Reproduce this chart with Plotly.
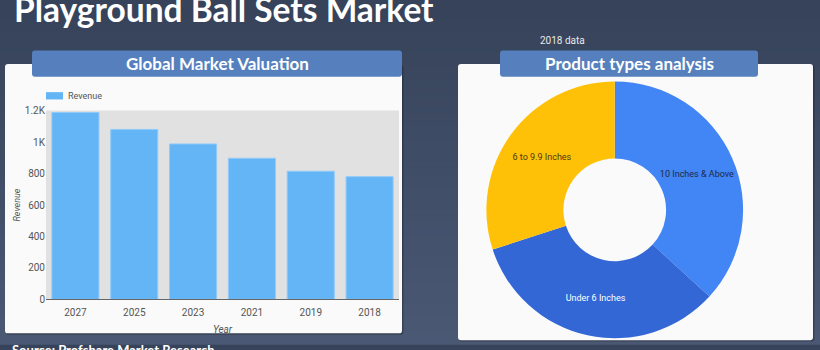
import plotly.graph_objects as go

# ---------------- data ----------------
years = ["2027", "2025", "2023", "2021", "2019", "2018"]
revenue = [1188, 1080, 988, 897, 815, 780]
y_tick_vals = [0, 200, 400, 600, 800, 1000, 1200]
y_tick_text = ["0", "200", "400", "600", "800", "1K", "1.2K"]

product_types = ["10 Inches & Above", "Under 6 Inches", "6 to 9.9 Inches"]
product_share = [36.8, 33.2, 30.0]
product_colors = ["#4285f4", "#3367d6", "#ffc107"]
product_text_colors = ["#1f2a44", "#ffffff", "#4a3b10"]

W, H = 820, 350


def px(x):
    return x / W


def py(y):
    return 1 - y / H


def rrect(x0, y0, x1, y1, r=3):
    # rounded rectangle path in paper coords from pixel coords
    rx, ry = r / W, r / H
    X0, X1 = px(x0), px(x1)
    Y0, Y1 = py(y0), py(y1)  # Y0 top, Y1 bottom
    return (f"M{X0+rx},{Y0} L{X1-rx},{Y0} Q{X1},{Y0} {X1},{Y0-ry} "
            f"L{X1},{Y1+ry} Q{X1},{Y1} {X1-rx},{Y1} L{X0+rx},{Y1} "
            f"Q{X0},{Y1} {X0},{Y1+ry} L{X0},{Y0-ry} Q{X0},{Y0} {X0+rx},{Y0} Z")


fig = go.Figure()

fig.add_trace(go.Bar(
    x=years, y=revenue, name="Revenue",
    marker=dict(color="#64b5f6", line=dict(color="#90caf9", width=1)),
    showlegend=False, xaxis="x", yaxis="y",
))

fig.add_trace(go.Pie(
    labels=product_types, values=product_share,
    hole=0.4, sort=False, direction="clockwise", rotation=0,
    marker=dict(colors=product_colors, line=dict(width=0)),
    textinfo="label", textposition="inside",
    insidetextorientation="horizontal",
    textfont=dict(family="Roboto", size=9, color=product_text_colors),
    showlegend=False,
    domain=dict(x=[px(482), px(747.5)], y=[py(344), py(79)]),
))

shapes = []
# background gradient
top = (0x36, 0x43, 0x5a)
bot = (0x4a, 0x58, 0x74)
n = 50
for i in range(n):
    t = i / (n - 1)
    c = tuple(int(round(top[k] + (bot[k] - top[k]) * t)) for k in range(3))
    shapes.append(dict(type="rect", xref="paper", yref="paper",
                       x0=0, x1=1, y0=1 - (i + 1) / n - 0.002, y1=1 - i / n,
                       fillcolor="rgb(%d,%d,%d)" % c, line=dict(width=0),
                       layer="below"))
# cards (shadow + white)
for (x0, y0, x1, y1) in [(5, 61, 402, 339), (458, 61, 813, 346)]:
    shapes.append(dict(type="path", xref="paper", yref="paper",
                       path=rrect(x0 + 1, y0 + 1, x1 + 1.5, y1 + 1.5, 3),
                       fillcolor="rgba(0,0,0,0.25)", line=dict(width=0),
                       layer="below"))
    shapes.append(dict(type="path", xref="paper", yref="paper",
                       path=rrect(x0, y0, x1, y1, 3),
                       fillcolor="#fafafa", line=dict(width=0),
                       layer="below"))
# header boxes
for (x0, y0, x1, y1) in [(32, 47, 402, 74), (500, 47, 758, 74)]:
    shapes.append(dict(type="path", xref="paper", yref="paper",
                       path=rrect(x0, y0, x1, y1, 3),
                       fillcolor="#5580bd", line=dict(width=0),
                       layer="below"))
# plot area background
shapes.append(dict(type="rect", xref="x domain", yref="y domain",
                   x0=0, x1=1, y0=0, y1=1, fillcolor="#e1e1e1",
                   line=dict(width=0), layer="below"))
# legend swatch
shapes.append(dict(type="rect", xref="paper", yref="paper",
                   x0=px(46), x1=px(63), y0=py(97.5), y1=py(90),
                   fillcolor="#64b5f6", line=dict(width=0)))


def ann(text, x, y, size, color, family="Lato", xanchor="center",
        yanchor="middle"):
    return dict(text=text, x=px(x), y=py(y), xref="paper", yref="paper",
                xanchor=xanchor, yanchor=yanchor, showarrow=False,
                font=dict(family=family, size=size, color=color))


annotations = [
    ann("<b>Playground Ball Sets Market</b>", 12, 4, 33.5, "#ffffff",
        xanchor="left"),
    ann("<b>Global Market Valuation</b>", 217, 60, 17, "#ffffff"),
    ann("<b>Product types analysis</b>", 629, 60, 17, "#ffffff"),
    ann("2018 data", 562, 37, 10, "#e8e8e8", family="Roboto"),
    ann("Revenue", 66, 94, 9, "#555555", family="Roboto", xanchor="left"),
    ann("<b>Source: Profshare Market Research</b>", 10, 346, 13, "#ffffff",
        xanchor="left", yanchor="top"),
]

fig.update_layout(
    width=W, height=H,
    margin=dict(l=0, r=0, t=0, b=0),
    paper_bgcolor="#36435a",
    plot_bgcolor="#e1e1e1",
    bargap=0.2,
    shapes=shapes,
    annotations=annotations,
    xaxis=dict(domain=[px(46), px(399)], showgrid=False, zeroline=False,
               showline=True, linecolor="#666666", linewidth=1,
               ticklabelstandoff=4,
               tickfont=dict(family="Roboto", size=10, color="#555555"),
               title=dict(text="<i>Year</i>", standoff=8,
                          font=dict(family="Roboto", size=10, color="#555555"))),
    yaxis=dict(domain=[py(304), py(109)], range=[0, 1200], showgrid=False,
               zeroline=False, showline=False,
               tickvals=y_tick_vals, ticktext=y_tick_text,
               tickfont=dict(family="Roboto", size=10, color="#555555"),
               title=dict(text="<i>Revenue</i>", standoff=2,
                          font=dict(family="Roboto", size=9, color="#555555"))),
)

fig.write_html("out.html")
